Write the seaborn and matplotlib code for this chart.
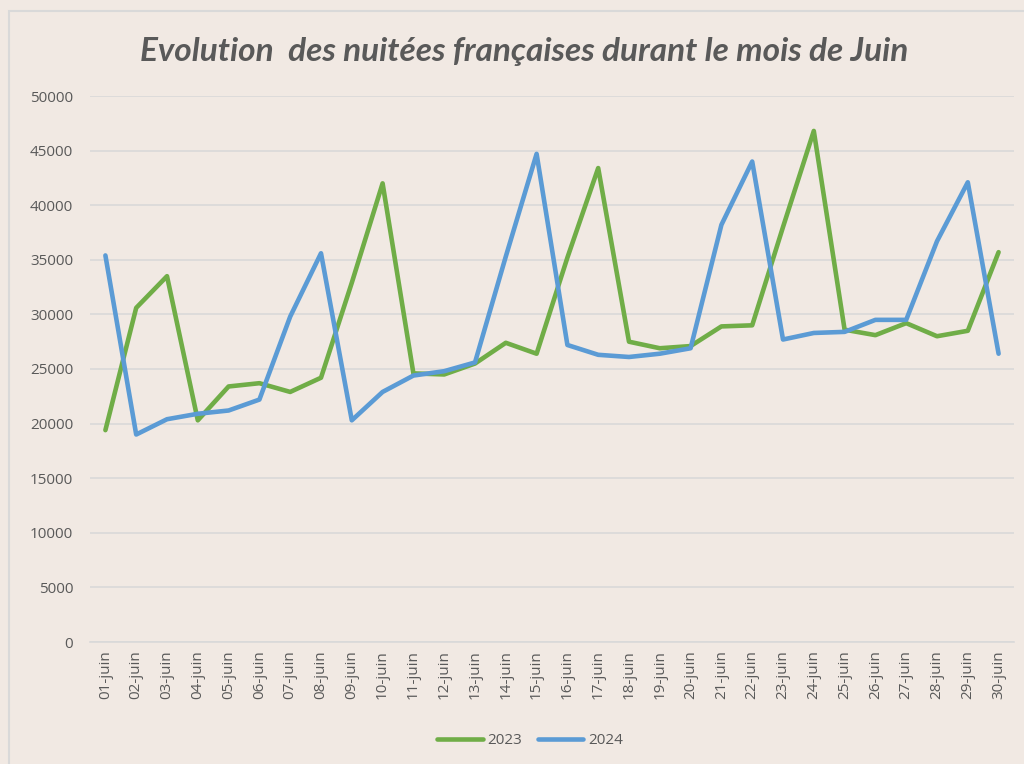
import matplotlib
matplotlib.use('Agg')
import numpy as np
import pandas as pd
import seaborn as sns
from matplotlib import pyplot as plt
from matplotlib.patches import Rectangle
from matplotlib.ticker import FixedLocator

# Days of June
days = [f'{d:02d}-juin' for d in range(1, 31)]

nuitees_2023 = [19400, 30600, 33500, 20300, 23400, 23700, 22900, 24200, 32900, 42000,
                24600, 24500, 25500, 27400, 26400, 35200, 43400, 27500, 26900, 27100,
                28900, 29000, 38000, 46800, 28600, 28100, 29200, 28000, 28500, 35700]
nuitees_2024 = [35400, 19000, 20400, 20900, 21200, 22200, 29800, 35600, 20300, 22900,
                24400, 24800, 25600, 35300, 44700, 27200, 26300, 26100, 26400, 26900,
                38200, 44000, 27700, 28300, 28400, 29500, 29500, 36700, 42100, 26400]

bg = '#F1E9E3'
txt = '#595959'

df = pd.DataFrame({'jour': list(range(30)) * 2,
                   'nuitees': nuitees_2023 + nuitees_2024,
                   'annee': ['2023'] * 30 + ['2024'] * 30})

sns.set_style('white')
plt.rcParams['font.family'] = ['Open Sans', 'DejaVu Sans']

fig = plt.figure(figsize=(10.24, 7.64), dpi=100, facecolor=bg)
fig.patches.append(Rectangle((9 / 1024, -0.01), 1.1, 1 - 11 / 764 + 0.01, transform=fig.transFigure,
                             facecolor='none', edgecolor='#D9D9D9', linewidth=1.5))
ax = fig.add_axes([90 / 1024, 1 - 642 / 764, (1014 - 90) / 1024, (642 - 96) / 764])
ax.set_facecolor(bg)

sns.lineplot(data=df, x='jour', y='nuitees', hue='annee', palette=['#70AD47', '#5B9BD5'],
             linewidth=3.3, ax=ax, legend=True)

ax.set_xlim(-0.5, 29.5)
ax.set_ylim(0, 50000)
ax.set_yticks(range(0, 50001, 5000))
ax.yaxis.grid(True, color='#D9D9D9', linewidth=1.2)
ax.set_axisbelow(True)
for s in ['top', 'right', 'left']:
    ax.spines[s].set_visible(False)
ax.spines['bottom'].set_color('#D9D9D9')
ax.spines['bottom'].set_linewidth(1.2)

ax.set_xticks(range(30))
ax.set_xticklabels(days, rotation=90)
ax.xaxis.set_minor_locator(FixedLocator(np.arange(-0.5, 30, 1)))
ax.tick_params(axis='x', which='major', length=0, pad=6, labelsize=11, labelcolor=txt)
ax.tick_params(axis='x', which='minor', length=5, color='#D9D9D9', width=1.2, direction='out')
ax.tick_params(axis='y', length=0, pad=12, labelsize=11, labelcolor=txt)
ax.set_xlabel('')
ax.set_ylabel('')

fig.text(524 / 1024, 1 - 51 / 764, 'Evolution  des nuitées françaises durant le mois de Juin',
         fontsize=24, fontstyle='italic', fontweight='bold', color=txt,
         ha='center', va='center', family=['Lato', 'DejaVu Sans'])

leg = ax.legend(loc='center', bbox_to_anchor=(530 / 1024, 1 - 741 / 764), bbox_transform=fig.transFigure,
                ncol=2, frameon=False, fontsize=11, handlelength=3.0, handletextpad=0.3,
                columnspacing=1.0)
for t in leg.get_texts():
    t.set_color(txt)

fig.savefig('out.png', dpi=100, facecolor=bg)
